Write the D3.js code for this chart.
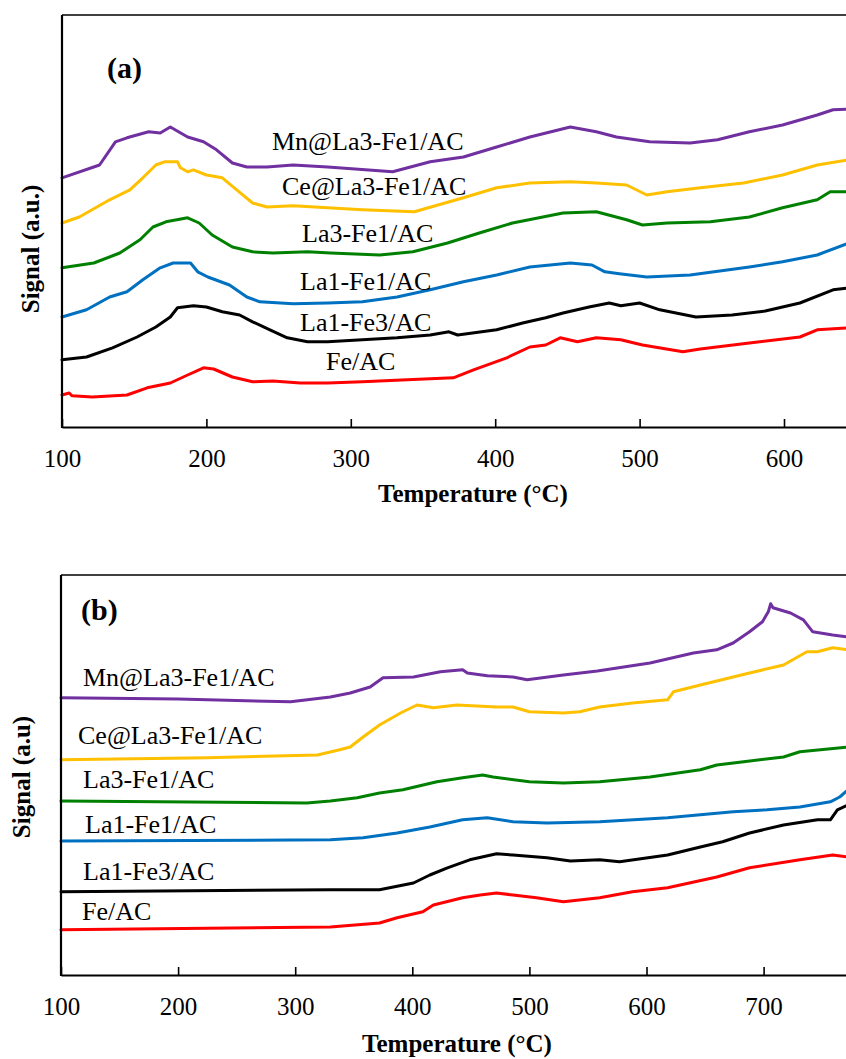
<!DOCTYPE html>
<html>
<head>
<meta charset="utf-8">
<script src="https://cdn.jsdelivr.net/npm/d3@7"></script>
<style>
  html, body { margin: 0; padding: 0; background: #fff; }
  svg { display: block; }
  text { font-family: "Liberation Serif", "Times New Roman", serif; fill: #000; }
</style>
</head>
<body>
<svg id="chart" width="846" height="1059"></svg>
<script>
// ---------------- DATA ----------------
const seriesNames = ["Mn@La3-Fe1/AC", "Ce@La3-Fe1/AC", "La3-Fe1/AC", "La1-Fe1/AC", "La1-Fe3/AC", "Fe/AC"];
const seriesColors = ["#7030A0", "#FFC000", "#008000", "#0070C0", "#000000", "#FF0000"];

const xTicksA = [100, 200, 300, 400, 500, 600, 700];
const xTicksB = [100, 200, 300, 400, 500, 600, 700, 800];

// Panel (a): [temperature °C, signal a.u.]
const aMn = [[100,62.3],[126,65.5],[137,71.3],[145,72.3],[160,73.8],[168,73.5],[175,75],[187,72.5],[198,71.3],[207,69.3],[218,66],[228,65],[242,65],[260,65.5],[284,65],[329,63.8],[355,66.3],[378,67.5],[401,70],[424,72.5],[452,75],[470,73.8],[484,72.5],[507,71.3],[535,71],[554,71.8],[576,73.8],[599,75.5],[623,78],[634,79.3],[645,79.5]];
const aCe = [[100,51],[112,52.5],[133,56.8],[147,59.3],[156,62.3],[165,65.5],[171,66.3],[180,66.3],[182,64.8],[187,63.8],[191,64.3],[200,63],[211,62.3],[221,59.3],[232,56],[242,55],[260,55.3],[284,54.8],[308,54.3],[344,53.8],[378,57.3],[401,59.8],[424,61],[452,61.3],[470,61],[491,60.5],[505,58],[519,58.8],[542,59.8],[572,61],[599,63],[623,65.5],[645,66.8]];
const aLa3Fe1 = [[100,39.8],[122,41],[140,43.5],[154,46.8],[163,50],[172,51.3],[187,52.3],[195,51],[204,48],[218,45],[232,43.8],[246,43.5],[270,43.8],[286,43.5],[320,43],[343,43.8],[367,46],[389,48.5],[412,51],[447,53.5],[470,53.8],[491,51.8],[502,50.5],[519,51],[549,51.3],[576,52.5],[599,54.8],[623,56.8],[632,58.8],[645,58.8]];
const aLa1Fe1 = [[100,27.5],[117,29.3],[133,32.5],[145,33.8],[156,36.8],[168,39.8],[177,41],[189,41],[194,38.8],[201,37.5],[216,35.5],[228,32.5],[237,31.3],[260,30.8],[284,31],[308,31.3],[332,32.5],[355,34.3],[378,36.3],[401,38],[424,40],[452,41],[467,40.5],[476,38.8],[486,38.3],[505,37.5],[535,38],[576,40],[599,41.3],[623,43],[645,46]];
const aLa1Fe3 = [[100,16.8],[117,17.5],[135,19.8],[152,22.5],[165,25],[175,27.5],[180,29.8],[191,30.3],[200,30],[211,28.8],[223,28],[232,26.3],[244,24.3],[256,22.3],[270,21.3],[284,21.3],[308,21.8],[332,22.3],[355,23],[368,23.8],[374,23],[401,24.3],[419,26],[435,27.3],[447,28.5],[465,30],[479,31],[487,30.3],[500,31],[514,29.3],[539,27.5],[564,28],[587,29],[611,31],[634,34.3],[645,34.8]];
const aFe = [[100,8],[105,8.5],[107,7.8],[121,7.5],[145,8],[159,9.8],[175,11],[187,13],[198,14.8],[205,14.5],[218,12.5],[232,11.3],[246,11.5],[265,11],[284,11],[308,11.3],[339,11.8],[371,12.3],[385,14.3],[408,17.3],[424,20],[435,20.5],[445,22.3],[457,21.3],[470,22.3],[487,21.8],[502,20.5],[530,18.8],[542,19.5],[576,21],[611,22.5],[623,24.3],[645,24.8]];

// Panel (b): [temperature °C, signal a.u.]
const bMn = [[100,69.3],[200,69],[296,68.3],[330,69.5],[347,70.5],[364,72],[375,74.3],[401,74.5],[424,75.8],[443,76.3],[447,75.5],[464,74.8],[486,74.5],[498,73.8],[529,75],[558,76],[603,78],[640,80.5],[660,81.3],[674,83],[688,85.8],[699,88.3],[704,90.8],[706,92.8],[708,91.8],[723,90.5],[734,88.8],[742,85.8],[759,85],[772,84.5]];
const bCe = [[100,53.8],[225,54.3],[319,55],[338,56.3],[347,57],[358,59.5],[372,62.5],[390,65.5],[404,67.5],[418,66.8],[438,67.5],[472,67],[486,67],[500,65.8],[529,65.5],[543,65.8],[560,67],[588,68],[618,68.8],[623,70.8],[646,72.5],[674,74.5],[688,75.5],[717,77.5],[737,80.8],[746,80.8],[759,81.8],[772,81.3]];
const bLa3Fe1 = [[100,43.5],[310,43],[330,43.5],[353,44.3],[372,45.5],[392,46.3],[421,48.3],[443,49.3],[460,50],[469,49.5],[500,48.3],[529,48],[560,48.3],[603,49.5],[646,51.3],[660,52.5],[717,54.5],[731,55.8],[772,57]];
const bLa1Fe1 = [[100,33.5],[330,33.8],[358,34.3],[387,35.5],[415,37],[443,38.8],[464,39.3],[486,38.3],[515,38],[560,38.3],[618,39.3],[674,40.8],[703,41.3],[731,42],[757,43.3],[765,44.5],[772,46.3]];
const bLa1Fe3 = [[100,20.8],[330,21.3],[372,21.3],[401,23],[415,25],[430,26.8],[449,28.8],[472,30.3],[486,30],[515,29.3],[535,28.5],[560,28.8],[577,28.3],[618,30],[646,32],[665,33.3],[688,35.5],[717,37.5],[746,38.8],[757,38.8],[763,41.3],[772,42.5]];
const bFe = [[100,11.3],[330,12],[372,13],[387,14.3],[409,15.8],[418,17.5],[443,19.3],[458,20],[472,20.5],[486,20],[506,19.3],[529,18.3],[560,19.3],[588,20.8],[618,21.8],[660,24.5],[688,26.8],[731,28.8],[759,30],[772,29.5]];

const seriesA = [aMn, aCe, aLa3Fe1, aLa1Fe1, aLa1Fe3, aFe];
const seriesB = [bMn, bCe, bLa3Fe1, bLa1Fe1, bLa1Fe3, bFe];

// label anchor positions (start x, baseline y) for each panel
const labelPosA = [[272,150],[282,195],[302,242],[300,290],[300,331],[326,370]];
const labelPosB = [[83,686],[78,744],[83,788],[85,833],[83,880],[82,920]];

// ---------------- DRAW ----------------
const svg = d3.select("#chart");

function panel(cfg) {
  const x = d3.scaleLinear().domain(cfg.xDomain).range([cfg.left, cfg.right]);
  const y = d3.scaleLinear().domain(cfg.yDomain).range([cfg.bottom, cfg.top]);
  const g = svg.append("g");

  // frame top line
  g.append("line").attr("x1", cfg.left).attr("x2", cfg.right)
    .attr("y1", cfg.top).attr("y2", cfg.top)
    .attr("stroke", "#000").attr("stroke-width", 1.6);
  // right line (off canvas)
  g.append("line").attr("x1", cfg.right).attr("x2", cfg.right)
    .attr("y1", cfg.top).attr("y2", cfg.bottom)
    .attr("stroke", "#000").attr("stroke-width", 1.6);

  // lines
  const line = d3.line().x(d => x(d[0])).y(d => y(d[1]));
  cfg.series.forEach((s, i) => {
    g.append("path").datum(s)
      .attr("d", line)
      .attr("fill", "none")
      .attr("stroke", seriesColors[i])
      .attr("stroke-width", 3)
      .attr("stroke-linejoin", "round")
      .attr("stroke-linecap", "round");
  });

  // x axis
  const xAxis = d3.axisBottom(x).tickValues(cfg.ticks).tickSizeInner(-8).tickSizeOuter(0).tickPadding(22).tickFormat(d3.format("d"));
  const ax = g.append("g").attr("transform", `translate(0,${cfg.bottom})`).call(xAxis);
  ax.select(".domain").attr("stroke", "#000").attr("stroke-width", 2.2);
  ax.selectAll(".tick line").attr("stroke", "#000").attr("stroke-width", 1.6);
  ax.selectAll(".tick text")
    .attr("font-family", "'Liberation Serif', 'Times New Roman', serif")
    .attr("font-size", 25).attr("fill", "#000").attr("dy", "0.71em");

  // y axis (line only)
  g.append("line").attr("x1", cfg.left).attr("x2", cfg.left)
    .attr("y1", cfg.top).attr("y2", cfg.bottom + 1)
    .attr("stroke", "#000").attr("stroke-width", 2.2);

  // axis titles
  g.append("text").attr("x", cfg.xTitle[0]).attr("y", cfg.xTitle[1])
    .attr("text-anchor", "middle").attr("font-size", 25).attr("font-weight", "bold")
    .text("Temperature (°C)");
  g.append("text")
    .attr("transform", `translate(${cfg.yTitle[0]},${cfg.yTitle[1]}) rotate(-90)`)
    .attr("text-anchor", "middle").attr("font-size", 25).attr("font-weight", "bold")
    .text(cfg.yTitleText);

  // panel letter
  g.append("text").attr("x", cfg.letterPos[0]).attr("y", cfg.letterPos[1])
    .attr("font-size", 30).attr("font-weight", "bold").text(cfg.letter);

  // series labels
  seriesNames.forEach((n, i) => {
    g.append("text").attr("x", cfg.labels[i][0]).attr("y", cfg.labels[i][1])
      .attr("font-size", 26).text(n);
  });
}

panel({
  xDomain: [100, 700], yDomain: [0, 103],
  left: 62, right: 928.4, top: 15, bottom: 427,
  ticks: xTicksA.filter(t => t <= 600),
  series: seriesA, labels: labelPosA,
  xTitle: [473, 502], yTitle: [39, 249], yTitleText: "Signal (a.u.)",
  letter: "(a)", letterPos: [107, 78]
});

panel({
  xDomain: [100, 800], yDomain: [0, 100],
  left: 61, right: 880.7, top: 575, bottom: 975,
  ticks: xTicksB.filter(t => t <= 700),
  series: seriesB, labels: labelPosB,
  xTitle: [457, 1052], yTitle: [30, 777], yTitleText: "Signal (a.u)",
  letter: "(b)", letterPos: [81, 620]
});
</script>
</body>
</html>
